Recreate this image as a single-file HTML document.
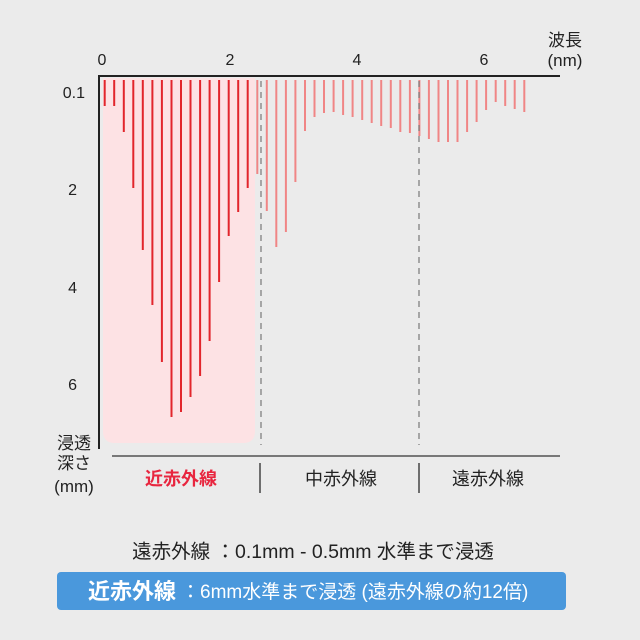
<!DOCTYPE html>
<html><head><meta charset="utf-8"><style>
html,body{margin:0;padding:0;background:#ebebeb;}
svg{display:block;font-family:"Liberation Sans","Noto Sans CJK JP",sans-serif;}
</style></head><body>
<svg id="s" width="640" height="640" viewBox="0 0 640 640" xmlns="http://www.w3.org/2000/svg">
<rect width="640" height="640" fill="#ebebeb"/>
<path d="M103 78 H255 V431 Q255 443 243 443 H115 Q103 443 103 431 Z" fill="#fde2e4"/>
<g id="bars"></g>
<line x1="261" y1="81" x2="261" y2="445" stroke="#777" stroke-width="1.2" stroke-dasharray="6,5"/>
<line x1="419" y1="81" x2="419" y2="445" stroke="#777" stroke-width="1.2" stroke-dasharray="6,5"/>
<line x1="99" y1="76" x2="560" y2="76" stroke="#222" stroke-width="2"/>
<line x1="99" y1="75" x2="99" y2="449" stroke="#222" stroke-width="2"/>
<line x1="112" y1="456" x2="560" y2="456" stroke="#333" stroke-width="1.2"/>
<line x1="260" y1="463" x2="260" y2="493" stroke="#444" stroke-width="1.5"/>
<line x1="419" y1="463" x2="419" y2="493" stroke="#444" stroke-width="1.5"/>
<g font-size="16" fill="#222" text-anchor="middle">
<text x="102" y="65">0</text><text x="230" y="65">2</text><text x="357" y="65">4</text><text x="484" y="65">6</text>
<text x="565" y="46" font-size="17">波長</text><text x="565" y="66" font-size="17">(nm)</text>
</g>
<g font-size="16" fill="#222" text-anchor="end">
<text x="85" y="98">0.1</text><text x="77" y="195">2</text><text x="77" y="293">4</text><text x="77" y="390">6</text>
</g>
<g font-size="17" fill="#222" text-anchor="middle">
<text x="74" y="449">浸透</text><text x="74" y="469">深さ</text><text x="74" y="492">(mm)</text>
<text x="181" y="485" font-size="18" fill="#e8263f" font-weight="bold">近赤外線</text>
<text x="341" y="485" font-size="18">中赤外線</text>
<text x="488" y="485" font-size="18">遠赤外線</text>
<text x="313" y="558" font-size="19.5">遠赤外線 ：0.1mm - 0.5mm 水準まで浸透</text>
</g>
<rect x="57" y="572" width="509" height="38" rx="4" fill="#4a98dc"/>
<text x="88" y="599" font-size="22" font-weight="bold" fill="#fff">近赤外線</text>
<text x="181" y="598" font-size="19" fill="#fff">：6mm水準まで浸透 (遠赤外線の約12倍)</text>
</svg>
<script>
var b=[106,106,132,188,250,305,362,417,412,397,376,341,282,236,212,188,174,211,247,232,182,131,117,113,112,115,117,120,123,126,128,132,133,136,139,142,142,142,132,122,110,102,106,109,112];
var g=document.getElementById('bars'),h='';
for(var i=0;i<b.length;i++){var x=(104.7+9.536*i).toFixed(1);var c=i<16?'#e2262c':'#f08585';
h+='<line x1="'+x+'" y1="80" x2="'+x+'" y2="'+b[i]+'" stroke="'+c+'" stroke-width="2"/>';}
g.innerHTML=h;
</script>
</body></html>
